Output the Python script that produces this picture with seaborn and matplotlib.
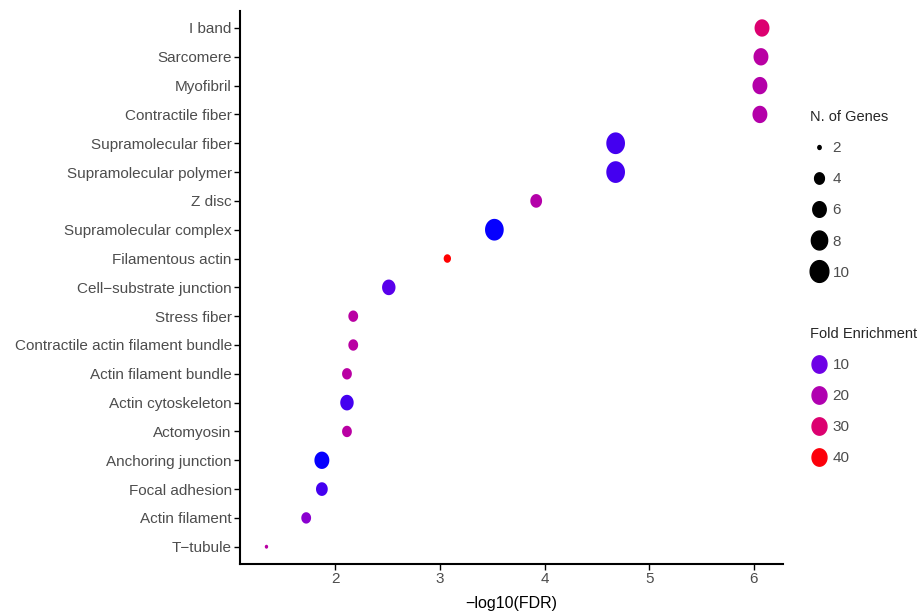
import numpy as np
import pandas as pd
import matplotlib
matplotlib.use("Agg")
import matplotlib.pyplot as plt
from matplotlib.colors import LinearSegmentedColormap, Normalize
from matplotlib.lines import Line2D
import seaborn as sns

# --- data ---
terms = [
    "I band", "Sarcomere", "Myofibril", "Contractile fiber",
    "Supramolecular fiber", "Supramolecular polymer", "Z disc",
    "Supramolecular complex", "Filamentous actin", "Cell\u2212substrate junction",
    "Stress fiber", "Contractile actin filament bundle", "Actin filament bundle",
    "Actin cytoskeleton", "Actomyosin", "Anchoring junction", "Focal adhesion",
    "Actin filament", "T\u2212tubule",
]
neg_log_fdr = [6.08, 6.07, 6.06, 6.06, 4.68, 4.68, 3.92, 3.52, 3.07, 2.51,
               2.17, 2.17, 2.11, 2.11, 2.11, 1.87, 1.87, 1.72, 1.34]
n_genes = [7, 7, 7, 7, 10, 10, 5, 10, 3, 6, 4, 4, 4, 6, 4, 7, 5, 4, 2]
fold_enrichment = [30, 22, 21, 21, 8, 8, 21, 5, 41, 9,
                   22, 22, 22, 8, 22, 5, 8, 14, 22]

size_breaks = [2, 4, 6, 8, 10]
color_breaks = [10, 20, 30, 40]

df = pd.DataFrame({"term": terms, "x": neg_log_fdr,
                   "genes": n_genes, "fe": fold_enrichment})

# blue -> red gradient like ggplot's scale_colour_gradient
fe_lo, fe_hi = 4.6, 41
cmap = LinearSegmentedColormap.from_list(
    "fe", [(0.0, "#0000ff"), (0.148, "#7000e6"), (0.423, "#b000b0"),
           (0.698, "#dc0070"), (1.0, "#ff0000")])
fe_norm = Normalize(fe_lo, fe_hi)

size_range = (8, 245)
size_norm = (2, 10)

def size_of(g):
    return size_range[0] + (size_range[1] - size_range[0]) * (g - size_norm[0]) / (size_norm[1] - size_norm[0])

# slightly tall ellipse marker, as in the reference
th = np.linspace(0, 2 * np.pi, 60)
ellipse = np.column_stack([0.86 * np.cos(th), np.sin(th)])

sns.set_style("white")
plt.rcParams["font.family"] = ["Liberation Sans Narrow", "Liberation Sans", "DejaVu Sans"]

fig = plt.figure(figsize=(9.2, 6.14), dpi=100)
ax = fig.add_axes([0.261, 0.0814, 0.59, 0.9012])

sns.scatterplot(data=df, x="x", y="term", hue="fe", palette=cmap, hue_norm=fe_norm,
                size="genes", sizes=size_range, size_norm=size_norm,
                marker=ellipse, linewidth=0, legend=False, ax=ax)

ax.set_xlim(1.088, 6.28)
ax.set_ylim(len(terms) - 0.4, -0.6)
ax.set_xticks([2, 3, 4, 5, 6])
ax.set_xlabel("\u2212log10(FDR)", fontsize=11.5, color="black", labelpad=7)
ax.set_ylabel("")
ax.tick_params(axis="both", direction="out", length=4, width=1, color="black",
               labelsize=11, labelcolor="#4d4d4d", pad=2, left=True, bottom=True)
for side in ["top", "right"]:
    ax.spines[side].set_visible(False)
for side in ["left", "bottom"]:
    ax.spines[side].set_color("black")
    ax.spines[side].set_linewidth(1.5)

# --- legends ---
size_handles = [Line2D([], [], linestyle="", marker=ellipse, color="black",
                       markersize=np.sqrt(size_of(g)), label=str(g)) for g in size_breaks]
color_handles = [Line2D([], [], linestyle="", marker=ellipse, color=cmap(fe_norm(c)),
                        markersize=np.sqrt(size_of(7)), label=str(c)) for c in color_breaks]

leg1 = fig.legend(handles=size_handles, title="N. of Genes", loc="upper left",
                  bbox_to_anchor=(0.865, 0.843), frameon=False, fontsize=11,
                  title_fontsize=10.5, labelspacing=1.12, handletextpad=0.3,
                  handlelength=1.2, alignment="left")
leg2 = fig.legend(handles=color_handles, title="Fold Enrichment", loc="upper left",
                  bbox_to_anchor=(0.865, 0.49), frameon=False, fontsize=11,
                  title_fontsize=10.5, labelspacing=1.12, handletextpad=0.3,
                  handlelength=1.2, alignment="left")
for leg in (leg1, leg2):
    for t in leg.get_texts():
        t.set_color("#4d4d4d")

fig.savefig("out.png", dpi=100)
